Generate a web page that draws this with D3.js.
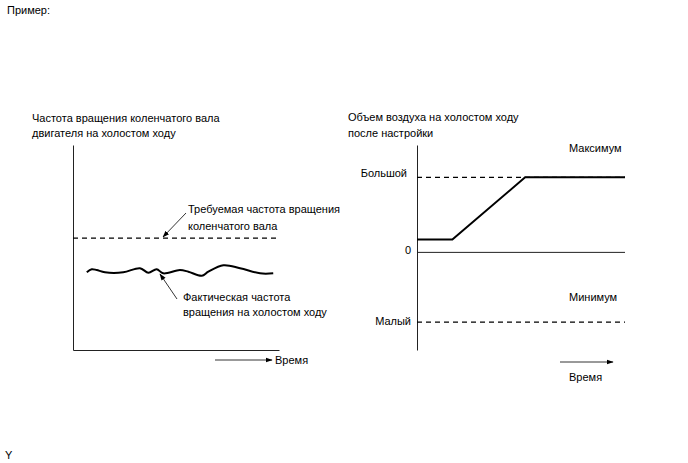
<!DOCTYPE html>
<html>
<head>
<meta charset="utf-8">
<script src="https://cdn.jsdelivr.net/npm/d3@7"></script>
<style>
  body { margin: 0; background: #fff; }
  svg text { font-family: "Liberation Sans", Arial, sans-serif; font-size: 11px; fill: #000; }
</style>
</head>
<body>
<div id="chart"></div>
<script>
// donnees du graphique de gauche (regime moteur au ralenti)
var rpmTime = [6.7, 9.1, 11.5, 15.5, 24.4, 32.5, 36.6, 40.6, 43.8, 51.9, 56, 62.5, 65.7, 73, 81.1, 90.8, 97.2];
var rpmActual = [37.9, 39.4, 39, 37.9, 37.9, 39.9, 37.7, 39.4, 37.4, 39, 38.2, 36.2, 38.2, 41.3, 39.9, 37.4, 37.4];
var rpmTarget = 54.6;

// donnees du graphique de droite (volume d'air apres reglage)
var airTime = [0, 17, 52, 100];
var airValue = [17, 17, 100, 100];
var airLevels = [100, 0, -93];
var airLevelLabels = ["Большой", "0", "Малый"];

var svg = d3.select('#chart').append('svg').attr('width', 688).attr('height', 463);

// fleche pour les annotations
var defs = svg.append('defs');
defs.append('marker')
    .attr('id', 'arrow')
    .attr('viewBox', '0 0 10 10')
    .attr('refX', 9).attr('refY', 5)
    .attr('markerWidth', 7).attr('markerHeight', 7)
    .attr('markerUnits', 'userSpaceOnUse')
    .attr('orient', 'auto')
    .append('path').attr('d', 'M0,1.5 L10,5 L0,8.5 Z').attr('fill', '#000');

svg.append('text').attr('x', 7).attr('y', 14).text('Пример:');
svg.append('text').attr('x', 5).attr('y', 459).text('Y');

/* ---------- graphique de gauche ---------- */
var xL = d3.scaleLinear().domain([0, 100]).range([73, 279]);
var yL = d3.scaleLinear().domain([0, 100]).range([350, 145]);

svg.append('text').attr('x', 32).attr('y', 122).text('Частота вращения коленчатого вала');
svg.append('text').attr('x', 32).attr('y', 137).text('двигателя на холостом ходу');

svg.append('g').attr('transform', 'translate(' + xL.range()[0] + ',0)')
    .call(d3.axisLeft(yL).tickValues([]).tickSizeOuter(0))
    .select('.domain').attr('stroke', '#222');
svg.append('g').attr('transform', 'translate(0,' + yL.range()[0] + ')')
    .call(d3.axisBottom(xL).tickValues([]).tickSizeOuter(0))
    .select('.domain').attr('stroke', '#222');

svg.append('line')
    .attr('x1', xL(0)).attr('x2', xL(100))
    .attr('y1', yL(rpmTarget)).attr('y2', yL(rpmTarget))
    .attr('stroke', '#000').attr('stroke-width', 1.2).attr('stroke-dasharray', '5,4');

var lineL = d3.line()
    .x(function(d, i){ return xL(rpmTime[i]); })
    .y(function(d){ return yL(d); })
    .curve(d3.curveCatmullRom);
svg.append('path').datum(rpmActual)
    .attr('d', lineL).attr('fill', 'none')
    .attr('stroke', '#000').attr('stroke-width', 2);

// annotations
svg.append('line').attr('x1', 186).attr('y1', 213).attr('x2', 163).attr('y2', 237)
    .attr('stroke', '#000').attr('stroke-width', 0.8).attr('marker-end', 'url(#arrow)');
svg.append('text').attr('x', 188).attr('y', 213).text('Требуемая частота вращения');
svg.append('text').attr('x', 188).attr('y', 230).text('коленчатого вала');

svg.append('line').attr('x1', 177).attr('y1', 299).attr('x2', 160).attr('y2', 274)
    .attr('stroke', '#000').attr('stroke-width', 0.8).attr('marker-end', 'url(#arrow)');
svg.append('text').attr('x', 183).attr('y', 301).text('Фактическая частота');
svg.append('text').attr('x', 183).attr('y', 316).text('вращения на холостом ходу');

svg.append('line').attr('x1', 215).attr('y1', 360).attr('x2', 272).attr('y2', 360)
    .attr('stroke', '#000').attr('stroke-width', 0.8).attr('marker-end', 'url(#arrow)');
svg.append('text').attr('x', 275).attr('y', 364).text('Время');

/* ---------- graphique de droite ---------- */
var xR = d3.scaleLinear().domain([0, 100]).range([417, 625]);
var yR = d3.scaleLinear().domain([-130, 143]).range([350, 145]);

svg.append('text').attr('x', 348).attr('y', 121).text('Объем воздуха на холостом ходу');
svg.append('text').attr('x', 348).attr('y', 137).text('после настройки');

var axR = svg.append('g').attr('transform', 'translate(' + xR.range()[0] + ',0)')
    .call(d3.axisLeft(yR).tickValues(airLevels).tickSize(0).tickPadding(6)
        .tickFormat(function(d, i){ return airLevelLabels[i]; }).tickSizeOuter(0));
axR.select('.domain').attr('stroke', '#222');
axR.selectAll('.tick text')
    .style('font-size', '11px')
    .style('font-family', '"Liberation Sans", Arial, sans-serif')
    .attr('dy', function(d){ return d > 0 ? '-0.05em' : (d < 0 ? '0.25em' : '0.1em'); })
    .attr('dx', function(d){ return d > 0 ? '-4' : '0'; });

// niveaux horizontaux
svg.append('line')
    .attr('x1', xR(0)).attr('x2', xR(100)).attr('y1', yR(0)).attr('y2', yR(0))
    .attr('stroke', '#222').attr('stroke-width', 1);
svg.selectAll('.level').data([airLevels[0], airLevels[2]]).enter().append('line')
    .attr('class', 'level')
    .attr('x1', xR(0)).attr('x2', xR(100))
    .attr('y1', function(d){ return yR(d); }).attr('y2', function(d){ return yR(d); })
    .attr('stroke', '#000').attr('stroke-width', 1.2).attr('stroke-dasharray', '5,4');

var lineR = d3.line()
    .x(function(d, i){ return xR(airTime[i]); })
    .y(function(d){ return yR(d); });
svg.append('path').datum(airValue)
    .attr('d', lineR).attr('fill', 'none')
    .attr('stroke', '#000').attr('stroke-width', 2);

svg.append('text').attr('x', 569).attr('y', 152).text('Максимум');
svg.append('text').attr('x', 569).attr('y', 301).text('Минимум');

svg.append('line').attr('x1', 560).attr('y1', 362).attr('x2', 613).attr('y2', 362)
    .attr('stroke', '#000').attr('stroke-width', 0.8).attr('marker-end', 'url(#arrow)');
svg.append('text').attr('x', 569).attr('y', 381).text('Время');
</script>
</body>
</html>
